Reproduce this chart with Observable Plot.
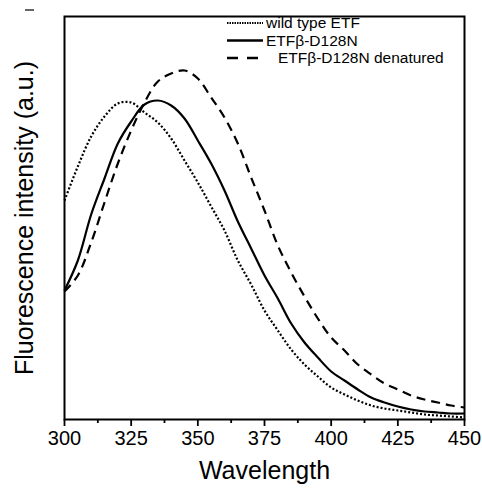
<!DOCTYPE html>
<html>
<head>
<meta charset="utf-8">
<script src="https://cdn.jsdelivr.net/npm/d3@7"></script>
<script src="https://cdn.jsdelivr.net/npm/@observablehq/plot@0.6"></script>
<style>
  html, body { margin: 0; padding: 0; background: #fff; }
  #chart { width: 482px; height: 489px; }
</style>
</head>
<body>
<div id="chart"></div>
<script>
const wavelengths = [300,305,310,315,320,325,330,335,340,345,350,355,360,365,370,375,380,385,390,395,400,405,410,415,420,425,430,435,440,445,450];
const wildType   = [219,253,283,303,316,317,307,297,281,259,237,213,189,159,135,109,89,70,55,43,32,25,19,14,11,9,7,5,4,3,2];
const d128n      = [129,159,205,241,276,298,315,319,314,301,279,256,229,198,171,144,121,96,77,62,48,39,30,22,17,13,10,8,7,6,6];
const denatured  = [128,144,177,217,256,289,317,338,346,349,341,322,302,276,242,209,174,147,123,101,82,69,55,45,36,30,24,20,17,14,12];
const seriesNames = ["wild type ETF", "ETFβ-D128N", "ETFβ-D128N denatured"];
const xTicks = [300,325,350,375,400,425,450];
const xMinorTicks = [312.5,337.5,362.5,387.5,412.5,437.5];
const xLabel = "Wavelength";
const yLabel = "Fluorescence intensity (a.u.)";

const styles = [
  {strokeWidth: 2.2, strokeDasharray: "2,2"},
  {strokeWidth: 2.2},
  {strokeWidth: 2.2, strokeDasharray: "9,6"}
];
const seriesValues = [wildType, d128n, denatured];
const tables = seriesValues.map(vals => wavelengths.map((w, i) => ({w, v: vals[i]})));

const plot = Plot.plot({
  width: 482,
  height: 489,
  marginLeft: 64,
  marginRight: 18,
  marginTop: 16,
  marginBottom: 70,
  style: {fontFamily: "'Liberation Sans', Arial, sans-serif", background: "#fff", color: "#000"},
  x: {domain: [300, 450]},
  y: {domain: [0, 403], axis: null},
  marks: [
    ...tables.map((t, i) => Plot.line(t, {x: "w", y: "v", stroke: "#000", curve: "catmull-rom", strokeLinecap: "butt", ...styles[i]})),
    Plot.frame({stroke: "#000", strokeWidth: 2}),
    Plot.axisX({ticks: xTicks, tickSize: 7, tickPadding: 4, fontSize: 20, label: null, strokeWidth: 1.8, tickFormat: d => d}),
    Plot.axisX({ticks: xMinorTicks, tickSize: 4, tickFormat: () => "", label: null, strokeWidth: 1.8}),
    Plot.text([xLabel], {frameAnchor: "bottom", dy: 51, fontSize: 25, lineAnchor: "middle", fill: "#000"}),
    Plot.text([yLabel], {frameAnchor: "left", dx: -40, rotate: -90, fontSize: 25, textAnchor: "middle", lineAnchor: "middle", fill: "#000"})
  ]
});
document.getElementById("chart").appendChild(plot);

// legend
const svg = d3.select(plot);
const lg = svg.append("g")
  .attr("font-family", "'Liberation Sans', Arial, sans-serif")
  .attr("font-size", 15.5)
  .attr("text-anchor", "start");
const legendRows = [23, 40.5, 58];
const legendText = [266, 266, 278];
seriesNames.forEach((name, i) => {
  const y = legendRows[i];
  const line = lg.append("line").attr("x1", 227).attr("x2", 263).attr("y1", y).attr("y2", y)
    .attr("stroke", "#000").attr("stroke-width", i === 0 ? 2 : 2.4);
  if (i === 0) line.attr("stroke-dasharray", "1.5,1");
  if (i === 2) line.attr("stroke-dasharray", "11,9");
  lg.append("text").attr("x", legendText[i]).attr("y", y).attr("dy", "0.35em").attr("fill", "#000").text(name);
});
svg.append("line").attr("x1", 25).attr("x2", 34).attr("y1", 10).attr("y2", 10).attr("stroke", "#000").attr("stroke-width", 1.2);
</script>
</body>
</html>
